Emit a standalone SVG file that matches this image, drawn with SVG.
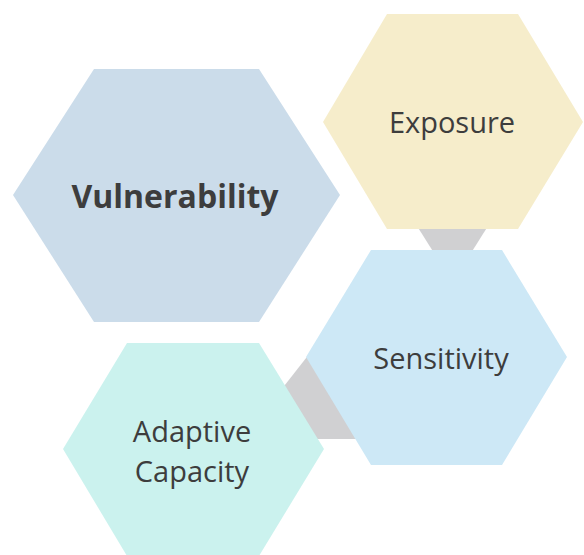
<svg xmlns="http://www.w3.org/2000/svg" width="584" height="555" viewBox="0 0 584 555">
  <style>
    .lbl { font-family: "Open Sans", "Noto Sans", "Liberation Sans", sans-serif; fill: #3d3d3d; text-anchor: middle; }
    .reg { font-size: 29px; }
    .bold { font-size: 32px; font-weight: bold; }
    .link { fill: #d0d0d2; }
  </style>
  <rect width="584" height="555" fill="#ffffff"/>
  <g id="connectors">
    <polygon class="link" points="417,226 488,226 471,253 434,253"/>
    <polygon class="link" points="281,390 310,353 370,439 310,439"/>
  </g>
  <g id="vulnerability">
    <polygon points="13,195 94,69 259,69 340,195 259,322 94,322" fill="#cbdcea"/>
    <text class="lbl bold" x="175" y="208">Vulnerability</text>
  </g>
  <g id="exposure">
    <polygon points="323,122 387,14 518,14 583,122 518,229 387,229" fill="#f6edcb"/>
    <text class="lbl reg" x="452" y="133">Exposure</text>
  </g>
  <g id="sensitivity">
    <polygon points="306,357 371,250 502,250 567,357 502,465 371,465" fill="#cde8f6"/>
    <text class="lbl reg" x="441" y="369">Sensitivity</text>
  </g>
  <g id="adaptive-capacity">
    <polygon points="63,449 127,343 259,343 324,449 259,556 127,556" fill="#cbf2ee"/>
    <text class="lbl reg" x="192" y="442">Adaptive</text>
    <text class="lbl reg" x="192" y="482">Capacity</text>
  </g>
</svg>
